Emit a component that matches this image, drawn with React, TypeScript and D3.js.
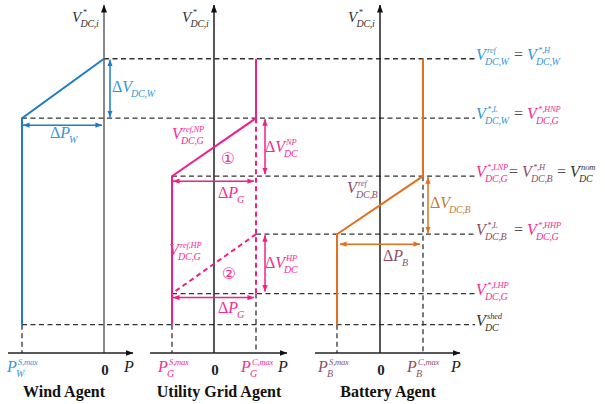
import React from 'react';
import * as d3 from 'd3';

// ---- data (relative units) ----
const levelNames = ['ref', 'HNP', 'nom', 'HHP', 'LHP', 'shed'];
const levelValues = [10.4, 8.3, 6.25, 4.2, 2.1, 1.0];
const vAxisMax = 12.3;

const windPower = { Smax: -1, zero: 0 };
const gridPower = { Smax: -1, zero: 0, Cmax: 1 };
const battPower = { Smax: -1, zero: 0, Cmax: 1 };

const agentNames = ['Wind Agent', 'Utility Grid Agent', 'Battery Agent'];

type TermT = { main?: string; sup?: string; sub?: string; c: string };
const rightLabels: TermT[][] = [
  [{ sup: 'ref', sub: 'DC,W', c: 'blue' }, { sup: '*,H', sub: 'DC,W', c: 'blue' }],
  [{ sup: '*,L', sub: 'DC,W', c: 'blue' }, { sup: '*,HNP', sub: 'DC,G', c: 'pink' }],
  [{ sup: '*,LNP', sub: 'DC,G', c: 'pink' }, { sup: '*,H', sub: 'DC,B', c: 'brown' }, { sup: 'nom', sub: 'DC', c: 'dark' }],
  [{ sup: '*,L', sub: 'DC,B', c: 'brown' }, { sup: '*,HHP', sub: 'DC,G', c: 'pink' }],
  [{ sup: '*,LHP', sub: 'DC,G', c: 'pink' }],
  [{ sup: 'shed', sub: 'DC', c: 'dark' }],
];

// ---- styles / layout ----
const COL: Record<string, string> = {
  blue: '#3398d8', pink: '#f52c92', brown: '#8e4f66', dark: '#333', orange: '#c47a35',
};
const LINE = { blue: '#1c7cc6', pink: '#f0208a', orange: '#e2701f' };
const F = "'Liberation Serif', 'Times New Roman', serif";
const rightTermX = [[476, 527], [476, 527], [476, 522, 570], [476, 527], [476], [476]];
const rightEqX = [[514], [514], [509, 557], [514], [], []];

const panels = [
  { zero: 104, unit: 82, axL: 8, axR: 133, nameX: 64, axisCol: '#555' },
  { zero: 214, unit: 42, axL: 150, axR: 287, nameX: 219, axisCol: '#111' },
  { zero: 380, unit: 43, axL: 315, axR: 460, nameX: 388, axisCol: '#111' },
];

function Term({ x, y, main = 'V', sup, sub, color, size = 16, ss = 10 }: any) {
  const delta = main.startsWith('Δ');
  const letter = delta ? main.slice(1) : main;
  const mainW = (delta ? 0.62 * size : 0) + 0.6 * size;
  return (
    <g fill={color} fontFamily={F}>
      <text x={x} y={y} fontSize={size}>
        {delta && <tspan>Δ</tspan>}
        <tspan fontStyle="italic">{letter}</tspan>
      </text>
      {sup && <text x={x + mainW + 1.5} y={y - 7} fontSize={ss - 1.5} fontStyle="italic" letterSpacing={-0.2}>{sup}</text>}
      {sub && <text x={x + mainW - 0.5} y={y + 5} fontSize={ss} fontStyle="italic" letterSpacing={-0.3}>{sub}</text>}
    </g>
  );
}

export default function App() {
  const L: Record<string, number> = Object.fromEntries(levelNames.map((n, i) => [n, levelValues[i]]));
  const y = d3.scaleLinear().domain([0, vAxisMax]).range([353, 5]);
  const xs = panels.map((p) => d3.scaleLinear().domain([-1, 1]).range([p.zero - p.unit, p.zero + p.unit]));
  const [xw, xg, xb] = xs;
  const lineGen = (sx: any) => d3.line<[number, number]>().x((d) => sx(d[0])).y((d) => y(d[1]));

  const rightEnd = 475;
  const hStart: Record<string, number> = {
    ref: xw(windPower.zero), HNP: xw(windPower.Smax), nom: xg(gridPower.Smax),
    HHP: xg(gridPower.Cmax), LHP: xg(gridPower.Smax), shed: xw(windPower.Smax),
  };
  const vDashed: [any, number, number][] = [
    [xw, windPower.Smax, L.shed], [xg, gridPower.Smax, L.shed], [xg, gridPower.Cmax, L.LHP],
    [xb, battPower.Smax, L.shed], [xb, battPower.Cmax, L.nom],
  ];

  const windCurve: [number, number][] = [[windPower.zero, L.ref], [windPower.Smax, L.HNP], [windPower.Smax, L.shed]];
  const gridCurve: [number, number][] = [[gridPower.Cmax, L.ref], [gridPower.Cmax, L.HNP], [gridPower.Smax, L.nom], [gridPower.Smax, L.shed]];
  const gridDash1: [number, number][] = [[gridPower.Cmax, L.HNP], [gridPower.Cmax, L.LHP]];
  const gridDash2: [number, number][] = [[gridPower.Cmax, L.HHP], [gridPower.Smax, L.LHP]];
  const battCurve: [number, number][] = [[battPower.Cmax, L.ref], [battPower.Cmax, L.nom], [battPower.Smax, L.HHP], [battPower.Smax, L.shed]];

  const dash = { stroke: '#333', strokeWidth: 1.3, strokeDasharray: '5,3.5', fill: 'none' };
  const arrows: { x1: number; y1: number; x2: number; y2: number; c: string }[] = [
    { x1: xw(0) + 6, y1: y(L.ref) + 1, x2: xw(0) + 6, y2: y(L.HNP) - 1, c: 'blue' },
    { x1: xw(windPower.Smax) + 1, y1: y(L.HNP) + 7, x2: xw(0) - 2, y2: y(L.HNP) + 7, c: 'blue' },
    { x1: xg(gridPower.Cmax) + 9, y1: y(L.HNP) + 1, x2: xg(gridPower.Cmax) + 9, y2: y(L.nom) - 2, c: 'pink' },
    { x1: xg(gridPower.Smax) + 1, y1: y(L.nom) + 5, x2: xg(gridPower.Cmax) - 2, y2: y(L.nom) + 5, c: 'pink' },
    { x1: xg(gridPower.Cmax) + 9, y1: y(L.HHP) + 1, x2: xg(gridPower.Cmax) + 9, y2: y(L.LHP) - 2, c: 'pink' },
    { x1: xg(gridPower.Smax) + 1, y1: y(L.LHP) + 4, x2: xg(gridPower.Cmax) - 2, y2: y(L.LHP) + 4, c: 'pink' },
    { x1: xb(battPower.Cmax) + 5, y1: y(L.nom) + 1, x2: xb(battPower.Cmax) + 5, y2: y(L.HHP) - 1, c: 'orange' },
    { x1: xb(battPower.Smax) + 3, y1: y(L.HHP) + 10, x2: xb(battPower.Cmax) - 3, y2: y(L.HHP) + 10, c: 'orange' },
  ];

  return (
    <svg width={605} height={404} style={{ position: 'absolute', left: 0, top: 0, background: '#fff' }}>
      <defs>
        {Object.entries({ blue: LINE.blue, pink: LINE.pink, orange: LINE.orange, black: '#111' }).map(([k, c]) => (
          <marker key={k} id={'ar-' + k} viewBox="0 0 8 6" refX={7.5} refY={3} markerWidth={k === 'black' ? 8 : 7}
            markerHeight={k === 'black' ? 6 : 5.5} markerUnits="userSpaceOnUse" orient="auto-start-reverse">
            <path d="M0,0 L8,3 L0,6 z" fill={c} />
          </marker>
        ))}
      </defs>

      {/* horizontal dashed level lines */}
      {levelNames.map((n) => (
        <line key={n} x1={hStart[n]} x2={rightEnd} y1={y(L[n])} y2={y(L[n])} {...dash} />
      ))}
      {vDashed.map(([sx, p, v], i) => (
        <line key={i} x1={sx(p)} x2={sx(p)} y1={y(v)} y2={y(0)} {...dash} />
      ))}

      {/* axes */}
      {panels.map((p, i) => (
        <g key={i}>
          <line x1={p.zero} x2={p.zero} y1={y(0)} y2={y(vAxisMax)} stroke={p.axisCol} strokeWidth={1.4} markerEnd="url(#ar-black)" />
          <line x1={p.axL} x2={p.axR} y1={y(0)} y2={y(0)} stroke="#222" strokeWidth={1.4} markerEnd="url(#ar-black)" />
        </g>
      ))}

      {/* characteristic curves */}
      <path d={lineGen(xw)(windCurve)!} stroke={LINE.blue} strokeWidth={2} fill="none" />
      <path d={lineGen(xg)(gridCurve)!} stroke={LINE.pink} strokeWidth={2} fill="none" />
      <path d={lineGen(xg)(gridDash1)!} stroke={LINE.pink} strokeWidth={2} fill="none" strokeDasharray="5,3.5" />
      <path d={lineGen(xg)(gridDash2)!} stroke={LINE.pink} strokeWidth={2} fill="none" strokeDasharray="5,3.5" />
      <path d={lineGen(xb)(battCurve)!} stroke={LINE.orange} strokeWidth={2} fill="none" />

      {arrows.map((a, i) => (
        <line key={i} x1={a.x1} y1={a.y1} x2={a.x2} y2={a.y2} stroke={(LINE as any)[a.c]} strokeWidth={1.5}
          markerStart={`url(#ar-${a.c})`} markerEnd={`url(#ar-${a.c})`} />
      ))}

      {/* axis titles */}
      {panels.map((p, i) => (
        <Term key={i} x={p.zero - 32} y={22} sup="*" sub="DC,i" color="#333" size={15} />
      ))}

      {/* in-plot labels */}
      <Term x={112} y={92} main="ΔV" sub="DC,W" color={COL.blue} />
      <Term x={50} y={138} main="ΔP" sub="W" color={COL.blue} />
      <Term x={172} y={139} sup="ref,NP" sub="DC,G" color={COL.pink} />
      <text x={228} y={164} fontSize={16} fill={COL.pink} fontFamily="'DejaVu Sans'" textAnchor="middle">①</text>
      <Term x={265} y={152} main="ΔV" sup="NP" sub="DC" color={COL.pink} />
      <Term x={218} y={198} main="ΔP" sub="G" color={COL.pink} />
      <Term x={169} y={255} sup="ref,HP" sub="DC,G" color={COL.pink} />
      <text x={229} y={279} fontSize={16} fill={COL.pink} fontFamily="'DejaVu Sans'" textAnchor="middle">②</text>
      <Term x={265} y={268} main="ΔV" sup="HP" sub="DC" color={COL.pink} />
      <Term x={218} y={313} main="ΔP" sub="G" color={COL.pink} />
      <Term x={347} y={193} sup="ref" sub="DC,B" color={COL.brown} />
      <Term x={430} y={208} main="ΔV" sub="DC,B" color={COL.orange} />
      <Term x={383} y={261} main="ΔP" sub="B" color={COL.brown} />

      {/* right-hand level labels */}
      {rightLabels.map((row, r) => (
        <g key={r}>
          {row.map((t, k) => (
            <Term key={k} x={rightTermX[r][k]} y={y(levelValues[r]) + 1} sup={t.sup} sub={t.sub} color={COL[t.c]} />
          ))}
          {rightEqX[r].map((ex, k) => (
            <text key={'e' + k} x={ex} y={y(levelValues[r]) + 1} fontSize={16} fill="#555" fontFamily={F}>=</text>
          ))}
        </g>
      ))}

      {/* power axis labels */}
      <Term x={xw(windPower.Smax) - 15} y={372} main="P" sup="S,max" sub="W" color={COL.blue} />
      <Term x={xg(gridPower.Smax) - 14} y={372} main="P" sup="S,max" sub="G" color={COL.pink} />
      <Term x={xg(gridPower.Cmax) - 15} y={372} main="P" sup="C,max" sub="G" color={COL.pink} />
      <Term x={xb(battPower.Smax) - 19} y={372} main="P" sup="S,max" sub="B" color={COL.brown} />
      <Term x={xb(battPower.Cmax) - 16} y={372} main="P" sup="C,max" sub="B" color={COL.brown} />
      {panels.map((p, i) => (
        <g key={i} fontFamily={F}>
          <text x={p.zero + 1} y={375} fontSize={15} fontWeight="bold" textAnchor="middle" fill="#222">0</text>
          <text x={p.axR - 9} y={372} fontSize={16} fontStyle="italic" fill="#222">P</text>
          <text x={p.nameX} y={397} fontSize={16} fontWeight="bold" textAnchor="middle" fill="#111">{agentNames[i]}</text>
        </g>
      ))}
    </svg>
  );
}
